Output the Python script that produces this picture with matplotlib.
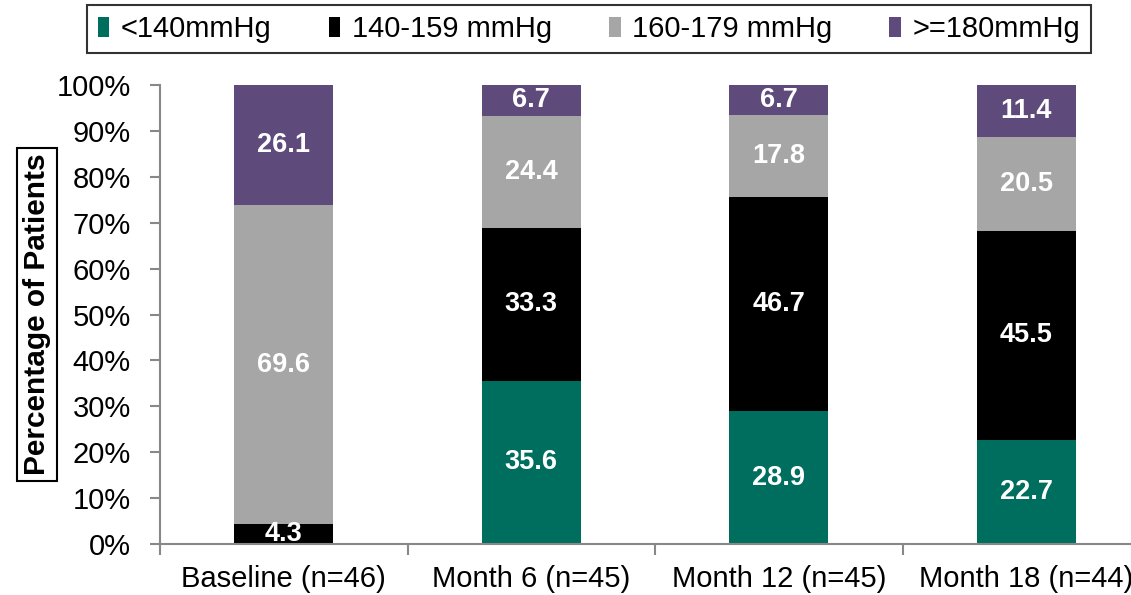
import matplotlib.pyplot as plt
import numpy as np

plt.rcParams['font.family'] = ['Liberation Sans', 'DejaVu Sans']

categories = ['Baseline (n=46)', 'Month 6 (n=45)', 'Month 12 (n=45)', 'Month 18 (n=44)']
series_names = ['<140mmHg', '140-159 mmHg', '160-179 mmHg', '>=180mmHg']
below_140 = [0.0, 35.6, 28.9, 22.7]
from_140_159 = [4.3, 33.3, 46.7, 45.5]
from_160_179 = [69.6, 24.4, 17.8, 20.5]
above_180 = [26.1, 6.7, 6.7, 11.4]
colors = ['#006E5F', '#000000', '#A6A6A6', '#5F4B7B']

series = [below_140, from_140_159, from_160_179, above_180]

fig = plt.figure(figsize=(11.31, 5.95), dpi=100)
ax = fig.add_axes([160 / 1131, 51 / 595, 990 / 1131, 459 / 595])

x = np.arange(len(categories))
bottom = np.zeros(len(categories))
for name, vals, col in zip(series_names, series, colors):
    vals = np.array(vals) / 100.0
    ax.bar(x, vals, 0.4, bottom=bottom, color=col, label=name)
    for xi, b, v in zip(x, bottom, vals):
        if v > 0:
            ax.text(xi, b + v / 2, f'{v * 100:.1f}', ha='center', va='center',
                    color='white', fontsize=19.5, fontweight='bold')
    bottom += vals

ax.set_xlim(-0.5, 3.5)
ax.set_ylim(0, 1.0)
yt = np.arange(0, 1.01, 0.1)
ax.set_yticks(yt)
ax.set_yticklabels([f'{int(round(t * 100))}%' for t in yt], fontsize=21)
ax.set_xticks(x)
# last label runs past the right edge of the figure, as the axis extends beyond it
ax.set_xticklabels(categories, fontsize=21)
ax.set_xticks(np.arange(-0.5, 4.0, 1.0), minor=True)
ax.tick_params(axis='x', which='major', length=0, pad=15)
ax.tick_params(axis='x', which='minor', length=8, color='#888888', width=1.5)
ax.tick_params(axis='y', length=7, color='#888888', width=1.5, pad=14)

for s in ['top', 'right']:
    ax.spines[s].set_visible(False)
for s in ['left', 'bottom']:
    ax.spines[s].set_color('#888888')
    ax.spines[s].set_linewidth(1.5)

ax.set_ylabel('Percentage of Patients', fontsize=21.5, fontweight='bold',
              bbox=dict(facecolor='white', edgecolor='black', linewidth=1.5, pad=4))
ax.yaxis.set_label_coords(-0.11, 0.5)

handles, labels = ax.get_legend_handles_labels()
leg = fig.legend(handles, labels, loc='center', bbox_to_anchor=(589 / 1131, 1 - 29 / 595),
                 ncol=4, fontsize=21, frameon=True, fancybox=False, edgecolor='black',
                 handlelength=0.4, handleheight=0.7, handletextpad=0.4, columnspacing=1.95,
                 borderpad=0.35)
leg.get_frame().set_linewidth(1.5)

fig.savefig('out.png', dpi=100)
